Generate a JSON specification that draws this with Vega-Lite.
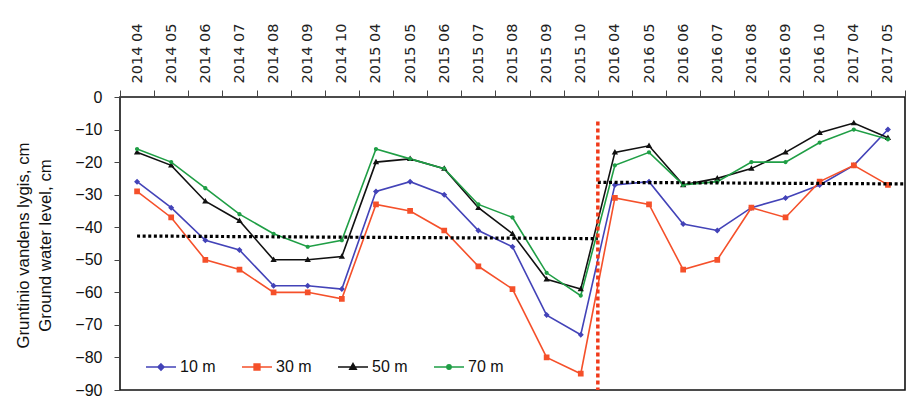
{
  "$schema": "https://vega.github.io/schema/vega-lite/v6.json",
  "autosize": {"type": "none"},
  "padding": {"left": 120, "top": 97, "right": 3, "bottom": 17},
  "width": 785,
  "height": 293,
  "background": "white",
  "config": {
    "view": {"stroke": "#111111", "strokeWidth": 1.6},
    "axis": {"grid": false, "domain": false, "tickColor": "#444444", "labelColor": "#111111", "titleColor": "#111111"}
  },
  "datasets": {
    "series": [
      {"date": "2014 04", "series": "10 m", "value": -26}, {"date": "2014 05", "series": "10 m", "value": -34}, {"date": "2014 06", "series": "10 m", "value": -44}, {"date": "2014 07", "series": "10 m", "value": -47}, {"date": "2014 08", "series": "10 m", "value": -58}, {"date": "2014 09", "series": "10 m", "value": -58}, {"date": "2014 10", "series": "10 m", "value": -59},
      {"date": "2015 04", "series": "10 m", "value": -29}, {"date": "2015 05", "series": "10 m", "value": -26}, {"date": "2015 06", "series": "10 m", "value": -30}, {"date": "2015 07", "series": "10 m", "value": -41}, {"date": "2015 08", "series": "10 m", "value": -46}, {"date": "2015 09", "series": "10 m", "value": -67}, {"date": "2015 10", "series": "10 m", "value": -73},
      {"date": "2016 04", "series": "10 m", "value": -27}, {"date": "2016 05", "series": "10 m", "value": -26}, {"date": "2016 06", "series": "10 m", "value": -39}, {"date": "2016 07", "series": "10 m", "value": -41}, {"date": "2016 08", "series": "10 m", "value": -34}, {"date": "2016 09", "series": "10 m", "value": -31}, {"date": "2016 10", "series": "10 m", "value": -27},
      {"date": "2017 04", "series": "10 m", "value": -21}, {"date": "2017 05", "series": "10 m", "value": -10},
      {"date": "2014 04", "series": "30 m", "value": -29}, {"date": "2014 05", "series": "30 m", "value": -37}, {"date": "2014 06", "series": "30 m", "value": -50}, {"date": "2014 07", "series": "30 m", "value": -53}, {"date": "2014 08", "series": "30 m", "value": -60}, {"date": "2014 09", "series": "30 m", "value": -60}, {"date": "2014 10", "series": "30 m", "value": -62},
      {"date": "2015 04", "series": "30 m", "value": -33}, {"date": "2015 05", "series": "30 m", "value": -35}, {"date": "2015 06", "series": "30 m", "value": -41}, {"date": "2015 07", "series": "30 m", "value": -52}, {"date": "2015 08", "series": "30 m", "value": -59}, {"date": "2015 09", "series": "30 m", "value": -80}, {"date": "2015 10", "series": "30 m", "value": -85},
      {"date": "2016 04", "series": "30 m", "value": -31}, {"date": "2016 05", "series": "30 m", "value": -33}, {"date": "2016 06", "series": "30 m", "value": -53}, {"date": "2016 07", "series": "30 m", "value": -50}, {"date": "2016 08", "series": "30 m", "value": -34}, {"date": "2016 09", "series": "30 m", "value": -37}, {"date": "2016 10", "series": "30 m", "value": -26},
      {"date": "2017 04", "series": "30 m", "value": -21}, {"date": "2017 05", "series": "30 m", "value": -27},
      {"date": "2014 04", "series": "50 m", "value": -17}, {"date": "2014 05", "series": "50 m", "value": -21}, {"date": "2014 06", "series": "50 m", "value": -32}, {"date": "2014 07", "series": "50 m", "value": -38}, {"date": "2014 08", "series": "50 m", "value": -50}, {"date": "2014 09", "series": "50 m", "value": -50}, {"date": "2014 10", "series": "50 m", "value": -49},
      {"date": "2015 04", "series": "50 m", "value": -20}, {"date": "2015 05", "series": "50 m", "value": -19}, {"date": "2015 06", "series": "50 m", "value": -22}, {"date": "2015 07", "series": "50 m", "value": -34}, {"date": "2015 08", "series": "50 m", "value": -42}, {"date": "2015 09", "series": "50 m", "value": -56}, {"date": "2015 10", "series": "50 m", "value": -59},
      {"date": "2016 04", "series": "50 m", "value": -17}, {"date": "2016 05", "series": "50 m", "value": -15}, {"date": "2016 06", "series": "50 m", "value": -27}, {"date": "2016 07", "series": "50 m", "value": -25}, {"date": "2016 08", "series": "50 m", "value": -22}, {"date": "2016 09", "series": "50 m", "value": -17}, {"date": "2016 10", "series": "50 m", "value": -11},
      {"date": "2017 04", "series": "50 m", "value": -8}, {"date": "2017 05", "series": "50 m", "value": -12.5},
      {"date": "2014 04", "series": "70 m", "value": -16}, {"date": "2014 05", "series": "70 m", "value": -20}, {"date": "2014 06", "series": "70 m", "value": -28}, {"date": "2014 07", "series": "70 m", "value": -36}, {"date": "2014 08", "series": "70 m", "value": -42}, {"date": "2014 09", "series": "70 m", "value": -46}, {"date": "2014 10", "series": "70 m", "value": -44},
      {"date": "2015 04", "series": "70 m", "value": -16}, {"date": "2015 05", "series": "70 m", "value": -19}, {"date": "2015 06", "series": "70 m", "value": -22}, {"date": "2015 07", "series": "70 m", "value": -33}, {"date": "2015 08", "series": "70 m", "value": -37}, {"date": "2015 09", "series": "70 m", "value": -54}, {"date": "2015 10", "series": "70 m", "value": -61},
      {"date": "2016 04", "series": "70 m", "value": -21}, {"date": "2016 05", "series": "70 m", "value": -17}, {"date": "2016 06", "series": "70 m", "value": -27}, {"date": "2016 07", "series": "70 m", "value": -26}, {"date": "2016 08", "series": "70 m", "value": -20}, {"date": "2016 09", "series": "70 m", "value": -20}, {"date": "2016 10", "series": "70 m", "value": -14},
      {"date": "2017 04", "series": "70 m", "value": -10}, {"date": "2017 05", "series": "70 m", "value": -13}
    ],
    "levels": [
      {"start": "2014 04", "end": "2016 04", "v1": -42.7, "v2": -43.5, "bs": 0.5, "be": 0},
      {"start": "2016 04", "end": "2017 05", "v1": -26.2, "v2": -26.7, "bs": 0, "be": 1}
    ],
    "divider": [{"date": "2016 04", "top": -7.5, "bottom": -90}]
  },
  "encoding": {
    "x": {
      "field": "date", "type": "ordinal", "title": null,
      "scale": {"type": "band", "paddingInner": 0, "paddingOuter": 0,
        "domain": ["2014 04","2014 05","2014 06","2014 07","2014 08","2014 09","2014 10","2015 04","2015 05","2015 06","2015 07","2015 08","2015 09","2015 10","2016 04","2016 05","2016 06","2016 07","2016 08","2016 09","2016 10","2017 04","2017 05"]},
      "axis": {"orient": "top", "labelAngle": -90, "tickBand": "extent", "tickSize": 7, "labelPadding": 7,
        "labelFont": "DejaVu Sans", "labelFontSize": 14.5, "labelColor": "#222222"}
    },
    "y": {
      "field": "value", "type": "quantitative",
      "title": ["Gruntinio vandens lygis, cm", "Ground water level, cm"],
      "scale": {"domain": [-90, 0], "nice": false, "zero": false},
      "axis": {"values": [0,-10,-20,-30,-40,-50,-60,-70,-80,-90], "tickSize": 6, "labelPadding": 12,
        "labelFont": "Liberation Sans", "labelFontSize": 16,
        "titleFont": "Liberation Sans", "titleFontSize": 16.8, "titleFontWeight": "normal",
        "titleLineHeight": 22, "titleX": -88, "titleY": 148, "titleBaseline": "bottom"}
    }
  },
  "layer": [
    {
      "data": {"name": "series"},
      "mark": {"type": "line", "strokeWidth": 1.6},
      "encoding": {
        "color": {
          "field": "series", "type": "nominal",
          "scale": {"domain": ["10 m", "30 m", "50 m", "70 m"], "range": ["#4343b8", "#f5502a", "#111111", "#1f9e45"]},
          "legend": {
            "title": null, "orient": "none", "legendX": 25, "legendY": 254, "direction": "horizontal", "columns": 4,
            "columnPadding": 22, "symbolSize": 900, "labelOffset": 3,
            "labelFont": "Liberation Sans", "labelFontSize": 16, "labelColor": "#111111",
            "encode": {"symbols": {"update": {"stroke": {"scale": "color", "field": "value"}, "strokeWidth": {"value": 1.6}, "opacity": {"value": 1}}}}
          }
        }
      }
    },
    {
      "data": {"name": "series"},
      "mark": {"type": "point", "filled": true, "size": 900, "strokeWidth": 0, "opacity": 1},
      "encoding": {
        "color": {"field": "series", "type": "nominal"},
        "shape": {
          "field": "series", "type": "nominal",
          "scale": {"domain": ["10 m", "30 m", "50 m", "70 m"],
            "range": [
              "M-1,0H1M0,-0.2L0.2,0L0,0.2L-0.2,0Z",
              "M-1,0H1M-0.19,-0.19H0.19V0.19H-0.19Z",
              "M-1,0H1M0,-0.22L0.21,0.15L-0.21,0.15Z",
              "M-1,0H1M-0.14,0A0.14,0.14 0 1,0 0.14,0A0.14,0.14 0 1,0 -0.14,0Z"
            ]}
        }
      }
    },
    {
      "data": {"name": "levels"},
      "transform": [{"filter": "datum.bs == 0.5"}],
      "mark": {"type": "rule", "color": "#000000", "strokeWidth": 3.2, "strokeDash": [3, 2.6]},
      "encoding": {
        "x": {"field": "start", "type": "ordinal", "bandPosition": 0.5},
        "x2": {"field": "end", "type": "ordinal", "bandPosition": 0},
        "y": {"field": "v1", "type": "quantitative"},
        "y2": {"field": "v2"}
      }
    },
    {
      "data": {"name": "levels"},
      "transform": [{"filter": "datum.bs == 0"}],
      "mark": {"type": "rule", "color": "#000000", "strokeWidth": 3.2, "strokeDash": [3, 2.6]},
      "encoding": {
        "x": {"field": "start", "type": "ordinal", "bandPosition": 0},
        "x2": {"field": "end", "type": "ordinal", "bandPosition": 1},
        "y": {"field": "v1", "type": "quantitative"},
        "y2": {"field": "v2"}
      }
    },
    {
      "data": {"name": "divider"},
      "mark": {"type": "rule", "color": "#f03a1a", "strokeWidth": 3.5, "strokeDash": [4, 3]},
      "encoding": {
        "x": {"field": "date", "type": "ordinal", "bandPosition": 0},
        "y": {"field": "top", "type": "quantitative"},
        "y2": {"field": "bottom"}
      }
    }
  ]
}
